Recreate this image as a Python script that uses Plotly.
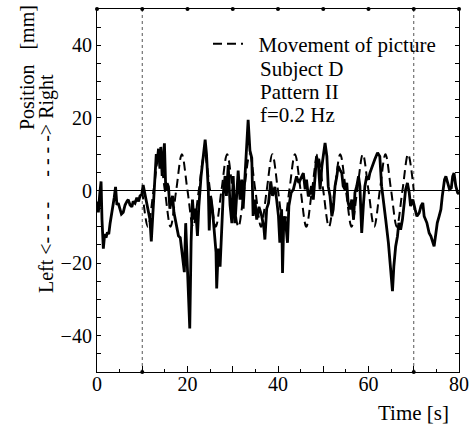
import plotly.graph_objects as go

# ---- data ----
subject_t = [0.0, 0.3, 0.6, 0.9, 1.1, 1.4, 1.7, 2.0, 2.3, 2.6, 2.9, 3.2, 3.5, 3.8, 4.1, 4.4, 4.7, 5.0,
             5.4, 5.8, 6.2, 6.6, 6.9, 7.3, 7.7, 8.0, 8.4, 8.8, 9.2, 9.5, 9.9, 10.2, 10.6, 11.0, 11.4,
             11.7, 12.0, 12.2, 12.5, 12.8, 13.1, 13.3, 13.6, 13.9, 14.1, 14.4, 14.7, 14.9, 15.2, 15.5,
             15.8, 16.1, 16.4, 16.7, 17.0, 17.3, 17.6, 18.0, 18.4, 18.7, 19.1, 19.3, 19.6, 19.9, 20.2,
             20.5, 20.8, 21.1, 21.4, 21.8, 22.2, 22.5, 23.0, 23.5, 23.9, 24.2, 24.6, 24.8, 25.1, 25.5,
             25.9, 26.3, 26.45, 26.8, 27.2, 27.5, 27.9, 28.3, 28.6, 29.0, 29.4, 29.8, 30.1, 30.5, 30.9,
             31.2, 31.6, 32.0, 32.3, 32.7, 33.1, 33.4, 33.8, 34.2, 34.5, 34.9, 35.3, 35.8, 36.4, 36.9,
             37.1, 37.5, 37.9, 38.4, 38.8, 39.3, 39.7, 40.1, 40.4, 40.8, 41.0, 41.3, 41.7, 42.1, 42.4,
             42.9, 43.4, 43.8, 44.1, 44.6, 45.2, 45.6, 46.0, 46.3, 46.7, 47.1, 47.4, 47.8, 48.2, 48.5,
             48.9, 49.3, 49.7, 50.0, 50.4, 50.8, 51.1, 51.5, 51.9, 52.2, 52.6, 53.0, 53.3, 53.7, 54.1,
             54.4, 54.8, 55.2, 55.5, 55.9, 56.3, 56.7, 57.0, 57.4, 57.8, 58.1, 58.5, 58.9, 59.2, 59.6,
             60.0, 60.3, 60.8, 61.4, 62.0, 62.5, 62.9, 63.3, 63.8, 64.4, 64.8, 65.3, 65.6, 66.0, 66.4,
             66.7, 67.1, 67.5, 67.9, 68.2, 68.6, 69.0, 69.3, 69.8, 70.3, 70.7, 71.2, 71.6, 72.0, 72.3,
             72.9, 73.4, 73.8, 74.2, 74.5, 74.9, 75.2, 75.6, 76.0, 76.3, 76.8, 77.1, 77.5, 77.9, 78.3,
             78.6, 78.9, 79.3, 79.7, 80.0]
subject_y = [-3, -6, -1, 2.5, -8, -16, -12, -13, -11.5, -12, -9, -7, -4, -2, 1, -4, -3.5, -5,
             -6.5, -6, -4, -3, -2.5, -4, -4.5, -3, -3.5, -2, -3, -1.5, -1, 1.5, -1, -3.5, -6,
             -8, -14, -10, -5, 3, 10, 8, 11.5, 6, 12, 4, 12, 13, 0, 2,
             1, -5, -3, -1.5, -6, -8, -9, -12.5, -13, -16, -20, -22.5, -9, -18, -30,
             -38, -14, -2.5, -8, -5, -12.5, -4.5, 4, 10, 14, 10, 0, -11, -1.5, -5,
             -12.5, -17, -27, -16, -21, -12.5, -1, 4, -1.5, 7, -4, -9, 4, -9, -0.5,
             5.5, -2.5, 3, -5, 4, 9.5, 19.5, 11, 9, -7, -2.5, -8, -4.5, -7, -10.5,
             -13.5, -5, -3.5, 2.5, -1.5, 1, -2.5, -7, -14.4, -5.2, -22.7, -7.1, -8.9, -14.4, -4.3,
             -0.6, 0.3, 2.1, 3.9, 2.1, 3.9, 4.8, 0.3, 3.0, -1.6, -0.6, 1.2, -2.5, 3.9, 9.4,
             7.6, 0.3, 6.7, 9.4, 13.1, 9.4, 1.2, -1.6, -7.1, -5.2, 1.2, 3.9, 6.7, 5.7, 4.8,
             1.2, 0.3, 2.1, -3.4, -5.2, -2.5, -8.0, -0.6, 1.2, 3.9, 1.2, -11.7, -3.4, 1.2, 3.9,
             3.0, 4.8, 6.7, 8.6, 10.4, 9.4, 1.2, -2.5, -8.0, -14.4, -19.9, -27.7, -20.9, -15.4, -12.6,
             -8.9, -10.8, -8.0, -3.4, 0.3, 2.1, -0.6, -4.3, -2.5, -5.2, -7.1, -6.2, -4.3, -3.4, -7.1,
             -8.9, -11.7, -12.6, -14.4, -15.4, -11.7, -8.9, -7.1, -5.2, -1.6, 3.0, 3.9, 2.1, 0.3, 0.7,
             3.9, 4.8, 1.2, -0.6, -1.0]

# picture movement: peaks / zero crossings / troughs
picture_t = [10.0, 11.25, 12.5, 13.75, 15.0, 16.25, 17.5, 18.75, 20.0, 21.25, 22.5, 23.75,
             25.0, 26.25, 27.5, 28.75, 30.0, 31.25, 32.5, 33.75, 35.0, 36.25, 37.5, 38.75,
             40.0, 41.25, 42.5, 43.75, 45.0, 46.25, 47.5, 48.75, 50.0, 51.25, 52.5, 53.75,
             55.0, 56.25, 57.5, 58.75, 60.0, 61.25, 62.5, 63.75, 65.0, 66.25, 67.5, 68.75, 70.0]
picture_y = [0, -10, 0, 10, 0, -10, 0, 10, 0, -10, 0, 10,
             0, -10, 0, 10, 0, -10, 0, 10, 0, -10, 0, 10,
             0, -10, 0, 10, 0, -10, 0, 10, 0, -10, 0, 10,
             0, -10, 0, 10, 0, -10, 0, 10, 0, -10, 0, 10, 0]

stim_bounds = [10, 70]
top_dot_t = [0, 10, 20, 30, 40, 50, 60, 70, 80]
x_tickvals = [0, 10, 20, 30, 40, 50, 60, 70, 80]
x_ticktext = ["0", "", "20", "", "40", "", "60", "", "80"]
y_tickvals = [-50, -40, -30, -20, -10, 0, 10, 20, 30, 40, 50]
y_ticktext = ["", "\u221240", "", "\u221220", "", "0", "", "20", "", "40", ""]

SERIF = "Liberation Serif"

fig = go.Figure()

fig.add_trace(go.Scatter(
    x=picture_t, y=picture_y, mode="lines", name="\u00a0\u00a0Movement of picture",
    line=dict(color="black", width=2, dash="9px,5px", shape="spline", smoothing=1.0),
    showlegend=True))

fig.add_trace(go.Scatter(
    x=subject_t, y=subject_y, mode="lines", name="Subject D",
    line=dict(color="black", width=2.8), showlegend=False))

# top border dots and bottom dots at stimulus bounds
fig.add_trace(go.Scatter(
    x=top_dot_t, y=[50] * len(top_dot_t), mode="markers",
    marker=dict(color="black", size=4), showlegend=False, cliponaxis=False))
fig.add_trace(go.Scatter(
    x=stim_bounds, y=[-50] * len(stim_bounds), mode="markers",
    marker=dict(color="black", size=4), showlegend=False, cliponaxis=False))

for b in stim_bounds:
    fig.add_vline(x=b, line=dict(color="#555555", width=1, dash="dot"), layer="below")

fig.update_xaxes(
    range=[0, 80], tickmode="array", tickvals=x_tickvals, ticktext=x_ticktext,
    ticks="inside", ticklen=6, tickwidth=1, tickcolor="black",
    minor=dict(dtick=5, ticks="inside", ticklen=3, tickcolor="black"),
    showline=True, linecolor="black", linewidth=1.2, mirror=True,
    showgrid=False, zeroline=False, ticklabelstandoff=-6, automargin=False,
    tickfont=dict(family=SERIF, size=20, color="black"))

fig.update_yaxes(
    range=[-50, 50], tickmode="array", tickvals=y_tickvals, ticktext=y_ticktext,
    ticks="inside", ticklen=4, tickwidth=1, tickcolor="black",
    minor=dict(dtick=5, ticks="inside", ticklen=4, tickcolor="black"),
    showline=True, linecolor="black", linewidth=1.2, mirror="allticks",
    showgrid=False, zeroline=True, zerolinecolor="black", zerolinewidth=1, automargin=False,
    tickfont=dict(family=SERIF, size=20, color="black"))

ann_font = dict(family=SERIF, size=21, color="black")
ylab_font = dict(family=SERIF, size=20, color="black")
fig.add_annotation(x=35.6, y=33.4, xref="x", yref="y", text="Subject D",
                   showarrow=False, xanchor="left", yanchor="middle", font=ann_font)
fig.add_annotation(x=35.6, y=27.0, xref="x", yref="y", text="Pattern II",
                   showarrow=False, xanchor="left", yanchor="middle", font=ann_font)
fig.add_annotation(x=35.6, y=20.7, xref="x", yref="y", text="f=0.2 Hz",
                   showarrow=False, xanchor="left", yanchor="middle", font=ann_font)

# axis titles
fig.add_annotation(x=1.0, y=-0.113, xref="paper", yref="paper", text="Time [s]",
                   showarrow=False, xanchor="right", yanchor="middle", xshift=-8, font=ann_font)
fig.add_annotation(x=-0.193, y=0.8375, xref="paper", yref="paper",
                   text="Position\u00a0\u00a0\u00a0[mm]", borderpad=0,
                   textangle=-90, showarrow=False, xanchor="center", yanchor="middle", font=ylab_font)
fig.add_annotation(x=-0.138, y=0.518, xref="paper", yref="paper",
                   text="Left &lt;- - - -\u00a0\u00a0\u00a0\u00a0\u00a0- - - -&gt; Right",
                   textangle=-90, showarrow=False, xanchor="center", yanchor="middle", font=ylab_font)

fig.update_layout(
    width=473, height=424,
    margin=dict(l=97, r=14, t=9, b=52, autoexpand=False),
    paper_bgcolor="white", plot_bgcolor="white",
    font=dict(family=SERIF, size=20, color="black"),
    legend=dict(x=0.3066, y=0.96, xanchor="left", yanchor="top",
                bgcolor="rgba(0,0,0,0)", borderwidth=0,
                font=dict(family=SERIF, size=21, color="black"),
                itemwidth=30, tracegroupgap=0),
)

fig.write_html("out.html", config={"displayModeBar": False},
               post_script="document.body.style.margin='0px';document.body.style.overflow='hidden';")
